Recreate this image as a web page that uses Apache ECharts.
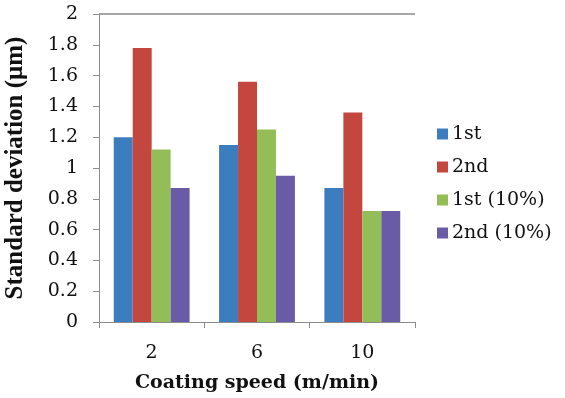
<!DOCTYPE html>
<html>
<head>
<meta charset="utf-8">
<script src="https://cdn.jsdelivr.net/npm/echarts@6/dist/echarts.min.js"></script>
<style>
  html, body { margin: 0; padding: 0; background: #fff; }
  #main { width: 565px; height: 398px; }
</style>
</head>
<body>
<div id="main"></div>
<script>
// coating speeds (m/min)
const speeds = ['2', '6', '10'];
const seriesNames = ['1st', '2nd', '1st (10%)', '2nd (10%)'];
// standard deviation (um)
const first = [1.20, 1.15, 0.87];
const second = [1.78, 1.56, 1.36];
const first10 = [1.12, 1.25, 0.72];
const second10 = [0.87, 0.95, 0.72];
const colors = ['#3C7DC0', '#C4473F', '#93BE57', '#6A5BA6'];

// the source picture is stretched sideways, a wider serif face gets closer
const font = 'DejaVu Serif';
const values = [first, second, first10, second10];

// only the top grid line is drawn (at 2)
const gridColors = [];
for (let i = 0; i < 10; i++) gridColors.push('rgba(0,0,0,0)');
gridColors.push('#a6a6a6');

const myChart = echarts.init(document.getElementById('main'));
myChart.setOption({
  animation: false,
  color: colors,
  grid: { left: 99, right: 150, top: 14, bottom: 76, outerBoundsMode: 'none', containLabel: false },
  legend: {
    orient: 'vertical',
    left: 432,
    top: 119,
    itemWidth: 11,
    itemHeight: 11,
    itemGap: 13,
    icon: 'rect',
    textStyle: { fontFamily: font, fontSize: 19, lineHeight: 20, color: '#111', padding: [0, 0, 0, -1] },
    data: seriesNames
  },
  xAxis: {
    type: 'category',
    data: speeds,
    name: 'Coating speed (m/min)',
    nameLocation: 'middle',
    nameGap: 52,
    nameTextStyle: { fontFamily: font, fontSize: 19, fontWeight: 'bold', color: '#111' },
    axisLine: { lineStyle: { color: '#8c8c8c', width: 1 } },
    axisTick: { show: true, length: 6, lineStyle: { color: '#8c8c8c' } },
    axisLabel: { fontFamily: font, fontSize: 19, color: '#111', margin: 22 }
  },
  yAxis: {
    type: 'value',
    min: 0,
    max: 2,
    interval: 0.2,
    name: 'Standard deviation (\u03bcm)',
    nameLocation: 'middle',
    nameGap: 71,
    nameTextStyle: { fontFamily: 'Liberation Serif', fontSize: 25, fontWeight: 'bold', color: '#111' },
    axisLine: { show: true, lineStyle: { color: '#8c8c8c', width: 1 } },
    axisTick: { show: true, length: 6, lineStyle: { color: '#8c8c8c' } },
    axisLabel: {
      fontFamily: font, fontSize: 19, color: '#111', margin: 21,
      formatter: v => String(Math.round(v * 10) / 10)
    },
    splitLine: { show: true, lineStyle: { color: gridColors, width: 2 } }
  },
  series: seriesNames.map((name, i) => ({
    name: name,
    type: 'bar',
    data: values[i],
    barGap: '0%',
    barCategoryGap: '28%'
  }))
});
</script>
</body>
</html>
